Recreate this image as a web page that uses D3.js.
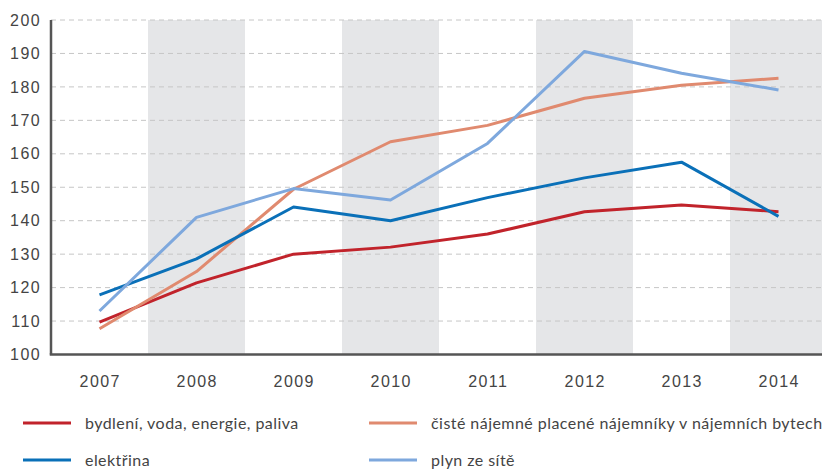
<!DOCTYPE html>
<html>
<head>
<meta charset="utf-8">
<script src="https://cdn.jsdelivr.net/npm/d3@7"></script>
<style>
  body { margin: 0; background: #fff; }
  svg { font-family: "Lato", "Open Sans", sans-serif; }
</style>
</head>
<body>
<div id="chart"></div>
<script>
const years = ["2007", "2008", "2009", "2010", "2011", "2012", "2013", "2014"];
const yTicks = [100, 110, 120, 130, 140, 150, 160, 170, 180, 190, 200];

const bydleni = [109.7, 121.4, 130.0, 132.1, 136.0, 142.7, 144.7, 142.7];
const najemne = [107.7, 124.8, 149.4, 163.6, 168.5, 176.6, 180.5, 182.6];
const elektrina = [117.8, 128.6, 144.1, 140.0, 146.9, 152.8, 157.5, 141.3];
const plyn = [113.0, 141.0, 149.6, 146.2, 163.1, 190.6, 184.1, 179.1];

const seriesNames = [
    "bydlení, voda, energie, paliva",
    "čisté nájemné placené nájemníky v nájemních bytech",
    "elektřina",
    "plyn ze sítě"
];
const seriesColors = ["#c1232b", "#e08a6f", "#0a70b8", "#7ea8dd"];

const series = [
    { name: seriesNames[0], color: seriesColors[0], values: bydleni },
    { name: seriesNames[1], color: seriesColors[1], values: najemne },
    { name: seriesNames[2], color: seriesColors[2], values: elektrina },
    { name: seriesNames[3], color: seriesColors[3], values: plyn }
];

const width = 822, height = 469;
const margin = { top: 20, left: 51, bottom: 114.5 };

const svg = d3.select("#chart").append("svg")
    .attr("width", width)
    .attr("height", height);

const x = d3.scaleBand()
    .domain(years)
    .range([margin.left, margin.left + 97 * years.length])
    .padding(0);

const y = d3.scaleLinear()
    .domain([100, 200])
    .range([height - margin.bottom, margin.top]);

// alternating gray bands
svg.append("g")
    .selectAll("rect")
    .data(years.filter((d, i) => i % 2 === 1))
    .enter()
    .append("rect")
    .attr("x", d => x(d))
    .attr("y", y(200))
    .attr("width", x.bandwidth())
    .attr("height", y(100) - y(200))
    .attr("fill", "#e5e6e8");

// dashed grid
svg.append("g")
    .selectAll("line")
    .data(yTicks.filter(d => d > 100))
    .enter()
    .append("line")
    .attr("x1", margin.left)
    .attr("x2", width)
    .attr("y1", d => y(d))
    .attr("y2", d => y(d))
    .attr("stroke", "#c6c6c6")
    .attr("stroke-width", 1)
    .attr("stroke-dasharray", "5,4");

// y axis
const yAxis = svg.append("g")
    .attr("transform", `translate(${margin.left},0)`)
    .call(d3.axisLeft(y).tickValues(yTicks).tickSize(0).tickPadding(10));
yAxis.select(".domain").remove();
yAxis.selectAll("text")
    .attr("font-size", 16)
    .attr("fill", "#444")
    .attr("letter-spacing", 1.4);

// x axis
const xAxis = svg.append("g")
    .attr("transform", `translate(0,${y(100)})`)
    .call(d3.axisBottom(x).tickSize(0).tickPadding(21));
xAxis.select(".domain").remove();
xAxis.selectAll("text")
    .attr("font-size", 16)
    .attr("fill", "#444")
    .attr("letter-spacing", 1.4)
    .attr("dx", 0.7);

// axis lines
svg.append("line")
    .attr("x1", margin.left).attr("x2", margin.left)
    .attr("y1", y(200)).attr("y2", y(100))
    .attr("stroke", "#555").attr("stroke-width", 2.5);
svg.append("line")
    .attr("x1", margin.left - 1.25).attr("x2", width)
    .attr("y1", y(100)).attr("y2", y(100))
    .attr("stroke", "#555").attr("stroke-width", 2.5);

// lines
const line = d3.line()
    .x((d, i) => x(years[i]) + x.bandwidth() / 2)
    .y(d => y(d));

svg.append("g")
    .selectAll("path")
    .data(series)
    .enter()
    .append("path")
    .attr("d", d => line(d.values))
    .attr("fill", "none")
    .attr("stroke", d => d.color)
    .attr("stroke-width", 3)
    .attr("stroke-linejoin", "round");

// legend
const legendPos = [[23, 423], [369, 423], [23, 460], [369, 460]];
const legend = svg.append("g")
    .selectAll("g")
    .data(series)
    .enter()
    .append("g")
    .attr("transform", (d, i) => `translate(${legendPos[i][0]},${legendPos[i][1]})`);

legend.append("line")
    .attr("x1", 0).attr("x2", 48)
    .attr("y1", 0).attr("y2", 0)
    .attr("stroke", d => d.color)
    .attr("stroke-width", 3);

legend.append("text")
    .attr("x", 62)
    .attr("y", 0)
    .attr("dy", "0.35em")
    .attr("font-size", 16)
    .attr("fill", "#444")
    .attr("letter-spacing", 0.45)
    .text(d => d.name);
</script>
</body>
</html>
